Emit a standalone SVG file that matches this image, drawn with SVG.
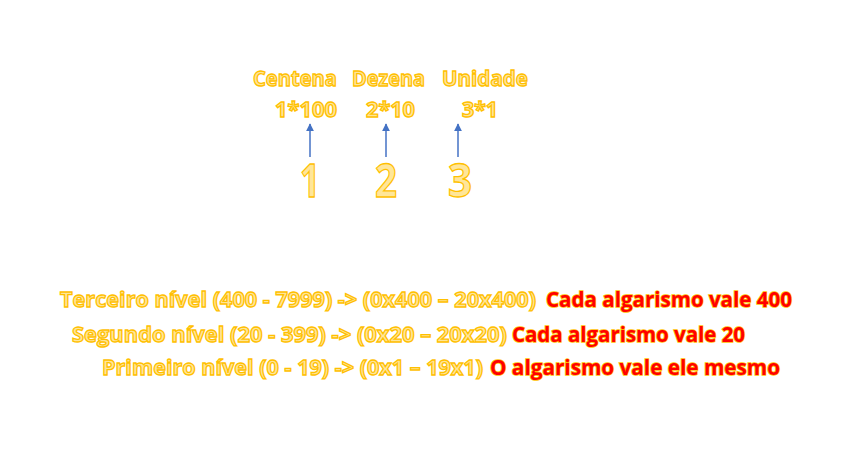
<svg xmlns="http://www.w3.org/2000/svg" width="851" height="451" viewBox="0 0 851 451">
<defs>
<style>
.y{font-family:"Open Sans","Liberation Sans",sans-serif;font-weight:bold;fill:#FFE699;stroke:#FFC000;stroke-width:1.3}
.r{font-family:"Open Sans","Liberation Sans",sans-serif;font-weight:bold;fill:#FF0000;stroke:#FFC000;stroke-width:1.6;paint-order:stroke}
.a{stroke:#4472C4;stroke-width:1.5;fill:none}
</style>
<marker id="ah" viewBox="0 0 10 10" refX="9" refY="5" markerWidth="8" markerHeight="8" orient="auto-start-reverse" markerUnits="userSpaceOnUse">
<path d="M0,0 L10,5 L0,10 z" fill="#4472C4"/>
</marker>
</defs>
<rect width="851" height="451" fill="#FFFFFF"/>
<g id="col-centena">
<text class="y" x="253" y="86" font-size="21" textLength="84" lengthAdjust="spacingAndGlyphs">Centena</text>
<text class="y" x="275" y="117" font-size="21" textLength="62" lengthAdjust="spacingAndGlyphs">1*100</text>
<text class="y" x="300" y="197" font-size="46" textLength="20" lengthAdjust="spacingAndGlyphs">1</text>
</g>
<g id="col-dezena">
<text class="y" x="352" y="86" font-size="21" textLength="73" lengthAdjust="spacingAndGlyphs">Dezena</text>
<text class="y" x="366" y="117" font-size="21" textLength="49" lengthAdjust="spacingAndGlyphs">2*10</text>
<text class="y" x="375" y="197" font-size="46" textLength="22" lengthAdjust="spacingAndGlyphs">2</text>
</g>
<g id="col-unidade">
<text class="y" x="442" y="86" font-size="21" textLength="86" lengthAdjust="spacingAndGlyphs">Unidade</text>
<text class="y" x="462" y="117" font-size="21" textLength="36" lengthAdjust="spacingAndGlyphs">3*1</text>
<text class="y" x="448" y="197" font-size="46" textLength="24" lengthAdjust="spacingAndGlyphs">3</text>
</g>
<g id="connectors">
<line class="a" x1="310" y1="157" x2="310" y2="124" marker-end="url(#ah)"/>
<line class="a" x1="386" y1="157" x2="386" y2="124" marker-end="url(#ah)"/>
<line class="a" x1="458" y1="157" x2="458" y2="124" marker-end="url(#ah)"/>
</g>
<g id="nivel-3">
<text class="y" x="60" y="307" font-size="22" textLength="476" lengthAdjust="spacingAndGlyphs">Terceiro nível (400 - 7999) -&gt; (0x400 – 20x400)</text>
<text class="r" x="546" y="307" font-size="22" textLength="246" lengthAdjust="spacingAndGlyphs">Cada algarismo vale 400</text>
</g>
<g id="nivel-2">
<text class="y" x="72" y="342" font-size="22" textLength="435" lengthAdjust="spacingAndGlyphs">Segundo nível (20 - 399) -&gt; (0x20 – 20x20)</text>
<text class="r" x="512" y="342" font-size="22" textLength="233" lengthAdjust="spacingAndGlyphs">Cada algarismo vale 20</text>
</g>
<g id="nivel-1">
<text class="y" x="102" y="375" font-size="22" textLength="381" lengthAdjust="spacingAndGlyphs">Primeiro nível (0 - 19) -&gt; (0x1 – 19x1)</text>
<text class="r" x="490" y="375" font-size="22" textLength="290" lengthAdjust="spacingAndGlyphs">O algarismo vale ele mesmo</text>
</g>
</svg>
